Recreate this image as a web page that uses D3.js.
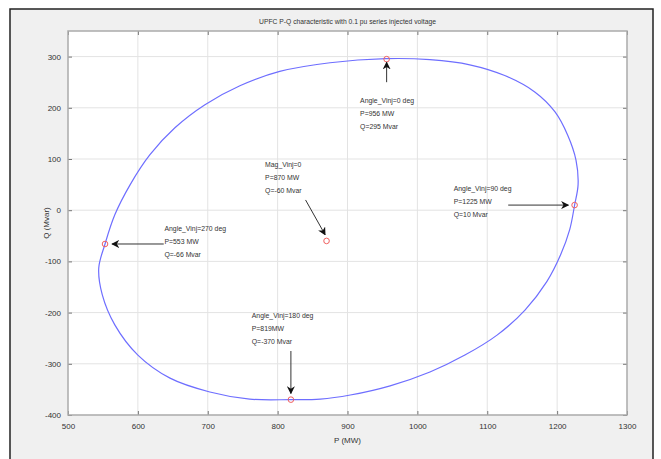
<!DOCTYPE html>
<html lang="en">
<head>
    <meta charset="UTF-8">
    <title>UPFC P-Q characteristic</title>
    <script src="https://cdn.jsdelivr.net/npm/d3@7/dist/d3.min.js"></script>
    <style>
        body { margin: 0; background: #fff; }
        text { font-family: "Liberation Sans Narrow", "Liberation Sans", Arial, sans-serif; fill: #333; }
    </style>
</head>
<body>
</body>
<script>
    var width = 661
    var height = 459

    // P-Q curve (P in MW, Q in Mvar), clockwise from the top
    var curveP = [955, 1018, 1075, 1125, 1168, 1197, 1215, 1227, 1230, 1225, 1218, 1205, 1185, 1154, 1114, 1068,
        1018, 961, 904, 861, 819, 760, 703, 646, 600, 567, 549, 544, 553, 567, 589, 617, 653, 696, 746, 803, 875]
    var curveQ = [296, 294, 284, 263, 231, 192, 147, 98, 50, 10, -38, -87, -140, -195, -244, -283,
        -316, -343, -361, -369, -370, -369, -355, -328, -283, -224, -165, -113, -66, -9, 50, 108, 161, 206, 243, 271, 288]

    // marked operating points
    var markP = [956, 1225, 819, 553, 870]
    var markQ = [295, 10, -370, -66, -60]

    var xTicks = [500, 600, 700, 800, 900, 1000, 1100, 1200, 1300]
    var yTicks = [-400, -300, -200, -100, 0, 100, 200, 300]

    // annotation text (data position of first line) and arrow from -> to
    var notes = [
        {lines: ['Angle_Vinj=0 deg', 'P=956 MW', 'Q=295 Mvar'], p: 918, q: 210, from: [956, 250], to: [956, 289]},
        {lines: ['Mag_Vinj=0', 'P=870 MW', 'Q=-60 Mvar'], p: 782, q: 84, from: [840, 20], to: [868, -48]},
        {lines: ['Angle_Vinj=90 deg', 'P=1225 MW', 'Q=10 Mvar'], p: 1052, q: 38, from: [1130, 10], to: [1216, 10]},
        {lines: ['Angle_Vinj=270 deg', 'P=553 MW', 'Q=-66 Mvar'], p: 638, q: -40, from: [637, -66], to: [563, -66]},
        {lines: ['Angle_Vinj=180 deg', 'P=819MW', 'Q=-370 Mvar'], p: 763, q: -210, from: [819, -275], to: [819, -358]}
    ]

    var pLeft = 68, pRight = 627, pTop = 31, pBottom = 415

    var x = d3.scaleLinear().domain([500, 1300]).range([pLeft, pRight])
    var y = d3.scaleLinear().domain([-400, 350]).range([pBottom, pTop])

    var svg = d3.select('body')
        .append('svg')
        .attr('width', width)
        .attr('height', height)

    // figure background and frame
    svg.append('rect')
        .attr('x', 10).attr('y', 9)
        .attr('width', 643).attr('height', 460)
        .attr('fill', '#f0f0f0')
        .attr('stroke', '#222')
        .attr('stroke-width', 1.5)

    svg.append('rect')
        .attr('x', pLeft).attr('y', pTop)
        .attr('width', pRight - pLeft).attr('height', pBottom - pTop)
        .attr('fill', '#fff')

    // grid
    svg.append('g').selectAll('line').data(xTicks.slice(1, -1)).enter().append('line')
        .attr('x1', d => x(d)).attr('x2', d => x(d))
        .attr('y1', pTop).attr('y2', pBottom)
        .attr('stroke', '#e3e3e3').attr('stroke-width', 1)
    svg.append('g').selectAll('line').data(yTicks.slice(1)).enter().append('line')
        .attr('x1', pLeft).attr('x2', pRight)
        .attr('y1', d => y(d)).attr('y2', d => y(d))
        .attr('stroke', '#e3e3e3').attr('stroke-width', 1)

    // axes with inward ticks on all four sides
    var axisStyle = function (g) {
        g.select('.domain').remove()
        g.selectAll('.tick line').attr('stroke', '#777')
        g.selectAll('.tick text').attr('fill', '#444').style('font-size', '8px')
    }
    var fmt = d => String(d)
    svg.append('g').attr('transform', 'translate(0,' + pBottom + ')')
        .call(d3.axisBottom(x).tickValues(xTicks).tickFormat(fmt).tickSizeInner(-4).tickPadding(8))
        .call(axisStyle)
    svg.append('g').attr('transform', 'translate(0,' + pTop + ')')
        .call(d3.axisTop(x).tickValues(xTicks).tickSizeInner(-4).tickFormat(''))
        .call(axisStyle)
    svg.append('g').attr('transform', 'translate(' + pLeft + ',0)')
        .call(d3.axisLeft(y).tickValues(yTicks).tickFormat(fmt).tickSizeInner(-4).tickPadding(7))
        .call(axisStyle)
    svg.append('g').attr('transform', 'translate(' + pRight + ',0)')
        .call(d3.axisRight(y).tickValues(yTicks).tickSizeInner(-4).tickFormat(''))
        .call(axisStyle)

    svg.append('rect')
        .attr('x', pLeft).attr('y', pTop)
        .attr('width', pRight - pLeft).attr('height', pBottom - pTop)
        .attr('fill', 'none')
        .attr('stroke', '#aaa')
        .attr('stroke-width', 1.5)

    // curve
    var pts = curveP.map((p, i) => [p, curveQ[i]])
    svg.append('path')
        .datum(pts)
        .attr('d', d3.line().x(d => x(d[0])).y(d => y(d[1])).curve(d3.curveCatmullRomClosed))
        .attr('fill', 'none')
        .attr('stroke', '#6e6eff')
        .attr('stroke-width', 1.2)

    svg.append('g').selectAll('circle').data(markP).enter().append('circle')
        .attr('cx', d => x(d))
        .attr('cy', (d, i) => y(markQ[i]))
        .attr('r', 2.8)
        .attr('fill', 'none')
        .attr('stroke', '#f06060')
        .attr('stroke-width', 1)

    // arrows
    svg.append('defs').append('marker')
        .attr('id', 'head')
        .attr('viewBox', '0 0 10 10')
        .attr('refX', 9).attr('refY', 5)
        .attr('markerWidth', 8).attr('markerHeight', 8)
        .attr('markerUnits', 'userSpaceOnUse')
        .attr('orient', 'auto')
        .append('path')
        .attr('d', 'M0,0 L10,5 L0,10 L3,5 z')
        .attr('fill', '#111')

    svg.append('g').selectAll('line').data(notes).enter().append('line')
        .attr('x1', d => x(d.from[0])).attr('y1', d => y(d.from[1]))
        .attr('x2', d => x(d.to[0])).attr('y2', d => y(d.to[1]))
        .attr('stroke', '#333')
        .attr('stroke-width', 1)
        .attr('marker-end', 'url(#head)')

    // annotation text, squeezed a little to look like the narrow original font
    var noteG = svg.append('g').selectAll('text').data(notes).enter().append('text')
        .attr('transform', d => 'translate(' + x(d.p) + ',' + y(d.q) + ') scale(0.86,1)')
        .style('font-size', '8px')
        .attr('fill', '#333')
    noteG.selectAll('tspan').data(d => d.lines).enter().append('tspan')
        .attr('x', 0)
        .attr('dy', (d, i) => i === 0 ? 0 : 13)
        .text(d => d)

    // titles
    svg.append('text')
        .attr('transform', 'translate(' + ((pLeft + pRight) / 2) + ',24) scale(0.9,1)')
        .attr('text-anchor', 'middle')
        .style('font-size', '7.5px')
        .text('UPFC  P-Q characteristic with 0.1 pu series injected voltage')
    svg.append('text')
        .attr('x', (pLeft + pRight) / 2).attr('y', 443)
        .attr('text-anchor', 'middle')
        .style('font-size', '8px')
        .text('P (MW)')
    svg.append('text')
        .attr('transform', 'translate(49,223) rotate(-90)')
        .attr('text-anchor', 'middle')
        .style('font-size', '8px')
        .text('Q (Mvar)')
</script>
</html>
